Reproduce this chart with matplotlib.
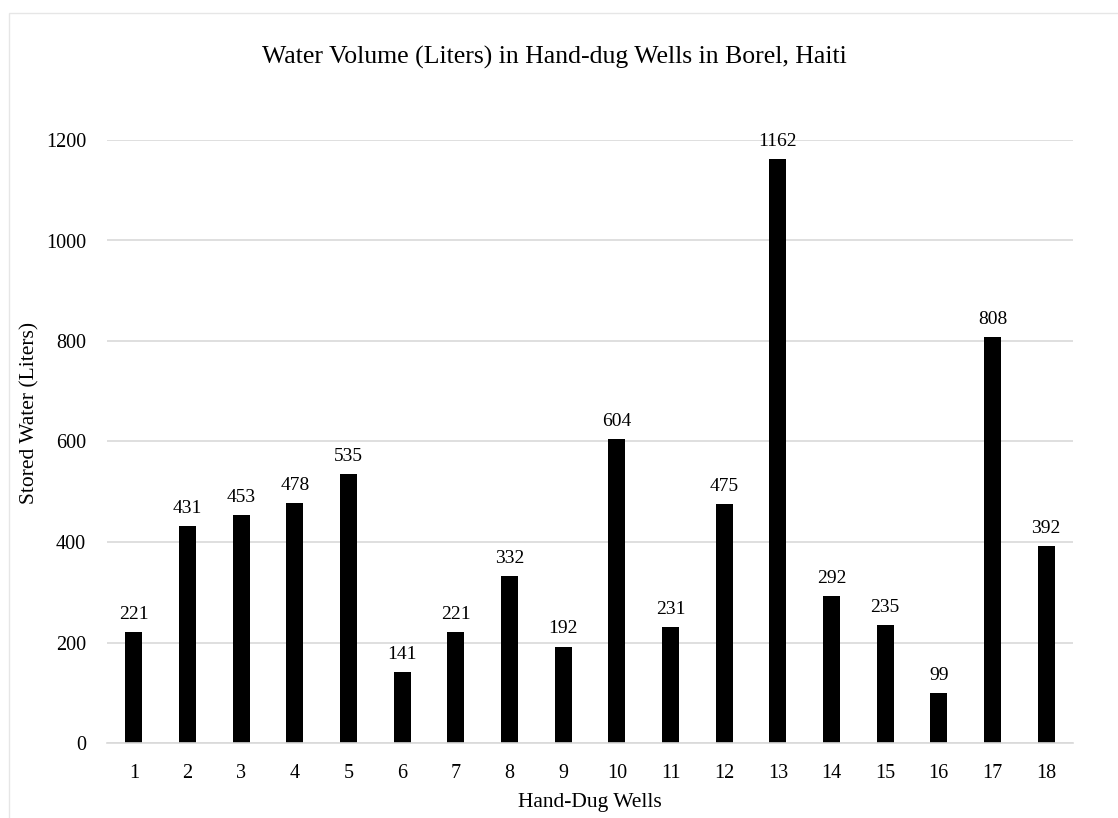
import matplotlib.pyplot as plt
from matplotlib.patches import Rectangle

plt.rcParams['font.family'] = ['Liberation Serif', 'DejaVu Serif']

wells = [str(i) for i in range(1, 19)]
volumes = [221, 431, 453, 478, 535, 141, 221, 332, 192, 604,
           231, 475, 1162, 292, 235, 99, 808, 392]

fig = plt.figure(figsize=(11.18, 8.18), dpi=100)
# light frame around the chart area
fig.patches.append(Rectangle((9 / 1118, -0.1), 1.2, 1.1 - 13 / 818,
                             transform=fig.transFigure, fill=False,
                             edgecolor='#e6e6e6', linewidth=1.0))

ax = fig.add_axes([107 / 1118, 1 - 743 / 818, (1073 - 107) / 1118, (743 - 140) / 818])
x = range(len(wells))
bars = ax.bar(x, volumes, width=0.32, color='black')

for b, v in zip(bars, volumes):
    ax.text(b.get_x() + b.get_width() / 2, v + 18, str(v),
            ha='center', va='bottom', fontsize=14)

ax.set_xlim(-0.5, len(wells) - 0.5)
ax.set_ylim(0, 1200)
ax.set_yticks(range(0, 1201, 200))
ax.set_xticks(list(x))
ax.set_xticklabels(wells)
ax.tick_params(axis='both', length=0, labelsize=14.5)
ax.tick_params(axis='x', pad=15)
ax.tick_params(axis='y', pad=15)
ax.yaxis.grid(True, color='#d9d9d9', linewidth=1.2)
ax.set_axisbelow(True)
for s in ['top', 'right', 'left']:
    ax.spines[s].set_visible(False)
ax.spines['bottom'].set_color('#d9d9d9')
ax.spines['bottom'].set_linewidth(1.2)

fig.text(554 / 1118, 0.930, 'Water Volume (Liters) in Hand-dug Wells in Borel, Haiti',
         ha='center', va='center', fontsize=18.5)
fig.text(590 / 1118, 1 - 803 / 818, 'Hand-Dug Wells', ha='center', va='center', fontsize=15.5)
fig.text(30 / 1118, 1 - 413 / 818, 'Stored Water (Liters)', ha='center', va='center',
         rotation=90, fontsize=15.5)

fig.savefig('out.png', dpi=100)
